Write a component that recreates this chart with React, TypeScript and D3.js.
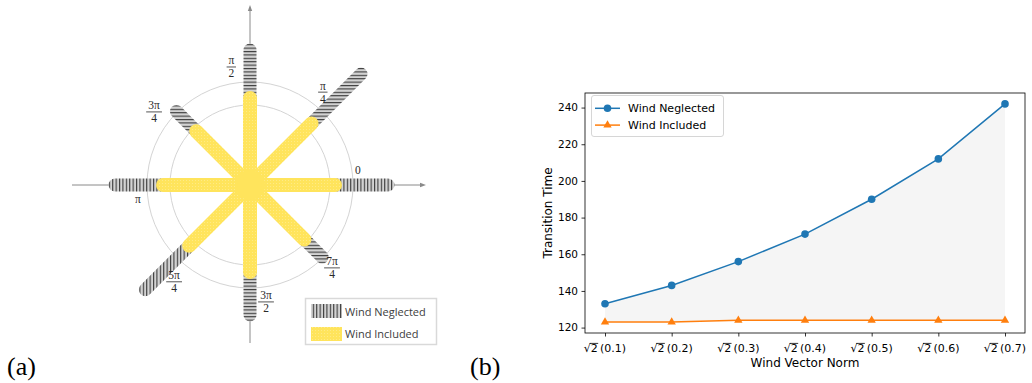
import React, { useEffect, useRef } from 'react';
import * as d3 from 'd3';

// (a) heading directions, in multiples of pi/4
const headingSteps = [0, 1, 2, 3, 4, 5, 6, 7];
const headingNumer = ['0', 'π', 'π', '3π', 'π', '5π', '3π', '7π'];
const headingDenom = ['', '4', '2', '4', '', '4', '2', '4'];
const neglectedReach = [138, 157, 135, 104, 135, 148, 130, 102];
const includedReach = [85, 87, 87, 76, 87, 86, 87, 77];
const ringValues = [80, 103];

// (b) transition time vs wind norm
const normLabels = ['0.1', '0.2', '0.3', '0.4', '0.5', '0.6', '0.7'];
const neglectedTime = [133, 143, 156, 171, 190, 212, 242];
const includedTime = [123, 123, 124, 124, 124, 124, 124];
const timeTicks = [120, 140, 160, 180, 200, 220, 240];

// layout only: where each heading label sits (degrees, radius)
const labelPolar = [
  [7.9, 109], [51.9, 118], [99, 119.5], [142.7, 120.6],
  [187, 113], [231.9, 123], [277.8, 118], [314.7, 116.6],
];
// which stripe direction each neglected bar uses
const stripeKind = ['v', 'h', 'h', 'h', 'v', 'v', 'h', 'h'];

const W = 1032;
const H = 383;

function App() {
  const ref = useRef<SVGSVGElement>(null);

  useEffect(() => {
    const svg = d3.select(ref.current);
    svg.selectAll('*').remove();

    const defs = svg.append('defs');
    // horizontal stripes
    const ph = defs.append('pattern').attr('id', 'hatchH').attr('patternUnits', 'userSpaceOnUse')
      .attr('width', 4).attr('height', 3.4);
    ph.append('rect').attr('width', 4).attr('height', 3.4).attr('fill', '#d3d3d3');
    ph.append('rect').attr('width', 4).attr('height', 1.1).attr('fill', '#3a3a3a');
    // vertical stripes
    const pv = defs.append('pattern').attr('id', 'hatchV').attr('patternUnits', 'userSpaceOnUse')
      .attr('width', 3.4).attr('height', 4);
    pv.append('rect').attr('width', 3.4).attr('height', 4).attr('fill', '#d3d3d3');
    pv.append('rect').attr('width', 1.1).attr('height', 4).attr('fill', '#3a3a3a');
    // dotted yellow
    const py = defs.append('pattern').attr('id', 'dotY').attr('patternUnits', 'userSpaceOnUse')
      .attr('width', 3).attr('height', 3);
    py.append('rect').attr('width', 3).attr('height', 3).attr('fill', '#ffe45c');
    py.append('rect').attr('width', 1).attr('height', 1).attr('fill', '#ffeb85');

    // ---------- (a) polar chart ----------
    const cx = 250;
    const cy = 185;
    const r = d3.scaleLinear().domain([0, 160]).range([0, 160]);
    const pt = (step: number, v: number) => {
      const a = (step * Math.PI) / 4;
      return [cx + r(v) * Math.cos(a), cy - r(v) * Math.sin(a)];
    };

    const a = svg.append('g');
    a.selectAll('circle.ring').data(ringValues).enter().append('circle')
      .attr('cx', cx).attr('cy', cy).attr('r', (d) => r(d))
      .attr('fill', 'none').attr('stroke', '#d4d4d4').attr('stroke-width', 1);

    // axes with arrows
    a.append('line').attr('x1', 72).attr('y1', cy).attr('x2', 422).attr('y2', cy)
      .attr('stroke', '#8a8a8a').attr('stroke-width', 1);
    a.append('path').attr('d', `M426,${cy} L420,${cy - 2.2} L420,${cy + 2.2} Z`).attr('fill', '#8a8a8a');
    a.append('line').attr('x1', cx).attr('y1', 9).attr('x2', cx).attr('y2', 343)
      .attr('stroke', '#8a8a8a').attr('stroke-width', 1);
    a.append('path').attr('d', `M${cx},5 L${cx - 2.2},11 L${cx + 2.2},11 Z`).attr('fill', '#8a8a8a');

    // wind neglected bars
    a.selectAll('line.neg').data(headingSteps).enter().append('line')
      .attr('x1', cx).attr('y1', cy)
      .attr('x2', (d) => pt(d, neglectedReach[d])[0])
      .attr('y2', (d) => pt(d, neglectedReach[d])[1])
      .attr('stroke', (d) => (stripeKind[d] === 'h' ? 'url(#hatchH)' : 'url(#hatchV)'))
      .attr('stroke-width', 13)
      .attr('stroke-linecap', 'round');

    // wind included bars
    a.selectAll('line.inc').data(headingSteps).enter().append('line')
      .attr('x1', cx).attr('y1', cy)
      .attr('x2', (d) => pt(d, includedReach[d])[0])
      .attr('y2', (d) => pt(d, includedReach[d])[1])
      .attr('stroke', 'url(#dotY)')
      .attr('stroke-width', 14)
      .attr('stroke-linecap', 'round');
    a.append('circle').attr('cx', cx).attr('cy', cy).attr('r', 15).attr('fill', '#ffe45c');

    // heading labels
    const lab = a.selectAll('g.lab').data(headingSteps).enter().append('g')
      .attr('transform', (d) => {
        const ang = (labelPolar[d][0] * Math.PI) / 180;
        return `translate(${cx + labelPolar[d][1] * Math.cos(ang)},${cy - labelPolar[d][1] * Math.sin(ang)})`;
      })
      .style('font-family', '"Liberation Serif", serif')
      .style('font-size', '11.5px')
      .attr('fill', '#2a2a2a');
    lab.append('text')
      .attr('text-anchor', 'middle')
      .attr('y', (d) => (headingDenom[d] ? -2.5 : 4))
      .text((d) => headingNumer[d]);
    lab.filter((d) => headingDenom[d] !== '').append('text')
      .attr('text-anchor', 'middle').attr('y', 10.5)
      .text((d) => headingDenom[d]);
    lab.filter((d) => headingDenom[d] !== '').append('line')
      .attr('x1', (d) => -(headingNumer[d].length * 3.2 + 1.5))
      .attr('x2', (d) => headingNumer[d].length * 3.2 + 1.5)
      .attr('y1', 0).attr('y2', 0)
      .attr('stroke', '#2a2a2a').attr('stroke-width', 0.8);

    // legend (a)
    const la = a.append('g');
    la.append('rect').attr('x', 305.5).attr('y', 298.5).attr('width', 131).attr('height', 46)
      .attr('fill', '#fff').attr('stroke', '#d9d9d9').attr('stroke-width', 1.5);
    la.append('rect').attr('x', 311).attr('y', 304).attr('width', 31).attr('height', 14).attr('fill', 'url(#hatchV)');
    la.append('rect').attr('x', 311).attr('y', 327).attr('width', 31).attr('height', 14).attr('fill', 'url(#dotY)');
    la.append('text').attr('x', 345).attr('y', 315.5).text('Wind Neglected')
      .style('font-family', '"Open Sans", sans-serif').style('font-size', '11px').attr('fill', '#404040');
    la.append('text').attr('x', 345).attr('y', 338).text('Wind Included')
      .style('font-family', '"Open Sans", sans-serif').style('font-size', '11px').attr('fill', '#404040');

    // ---------- (b) line chart ----------
    const left = 585, right = 1025, top = 93, bottom = 333;
    const x = d3.scaleLinear().domain([-0.3, 6.3]).range([left, right]);
    const y = d3.scaleLinear().domain([117.05, 247.95]).range([bottom, top]);
    const idx = d3.range(normLabels.length);
    const b = svg.append('g').style('font-family', '"DejaVu Sans", sans-serif');

    b.append('path')
      .datum(idx)
      .attr('d', d3.area<number>().x((i) => x(i)).y0((i) => y(includedTime[i])).y1((i) => y(neglectedTime[i])))
      .attr('fill', '#f5f5f5');

    const line = (vals: number[]) => d3.line<number>().x((i) => x(i)).y((i) => y(vals[i]))(idx);
    b.append('path').attr('d', line(neglectedTime)).attr('fill', 'none').attr('stroke', '#1f77b4').attr('stroke-width', 1.5);
    b.append('path').attr('d', line(includedTime)).attr('fill', 'none').attr('stroke', '#ff7f0e').attr('stroke-width', 1.5);
    b.selectAll('circle.n').data(idx).enter().append('circle')
      .attr('cx', (i) => x(i)).attr('cy', (i) => y(neglectedTime[i])).attr('r', 3.8).attr('fill', '#1f77b4');
    const tri = d3.symbol().type(d3.symbolTriangle).size(30);
    b.selectAll('path.t').data(idx).enter().append('path')
      .attr('d', tri as any)
      .attr('transform', (i) => `translate(${x(i)},${y(includedTime[i])})`)
      .attr('fill', '#ff7f0e');

    // spines
    b.append('rect').attr('x', left).attr('y', top).attr('width', right - left).attr('height', bottom - top)
      .attr('fill', 'none').attr('stroke', '#000').attr('stroke-width', 0.8);

    // y axis
    const ya = b.append('g').attr('transform', `translate(${left},0)`)
      .call(d3.axisLeft(y).tickValues(timeTicks).tickSize(3.5).tickPadding(3.5).tickFormat((d) => String(d)));
    ya.select('.domain').remove();
    ya.selectAll('text').style('font-size', '10.5px').style('font-family', '"DejaVu Sans", sans-serif').attr('fill', '#000');
    ya.selectAll('line').attr('stroke', '#000').attr('stroke-width', 0.8);

    // x axis ticks
    const xa = b.append('g').attr('transform', `translate(0,${bottom})`)
      .call(d3.axisBottom(x).tickValues(idx).tickSize(3.5).tickFormat(() => ''));
    xa.select('.domain').remove();
    xa.selectAll('line').attr('stroke', '#000').attr('stroke-width', 0.8);

    // x tick labels: sqrt(2)(v)
    const xl = b.selectAll('text.xl').data(idx).enter().append('text')
      .attr('class', 'xl')
      .attr('x', (i) => x(i)).attr('y', 352)
      .attr('text-anchor', 'middle')
      .style('font-size', '11px')
      .text((i) => `√2\u2009(${normLabels[i]})`);
    xl.each(function () {
      const t = this as SVGTextElement;
      try {
        const e2 = t.getExtentOfChar(1);
        const eR = t.getExtentOfChar(0);
        b.append('line')
          .attr('x1', eR.x + eR.width - 1.2).attr('x2', e2.x + e2.width + 0.3)
          .attr('y1', e2.y + 1.4).attr('y2', e2.y + 1.4)
          .attr('stroke', '#000').attr('stroke-width', 0.8);
      } catch (err) {
        // ignore
      }
    });

    b.append('text').attr('x', (left + right) / 2).attr('y', 367).attr('text-anchor', 'middle')
      .style('font-size', '12px').text('Wind Vector Norm');
    b.append('text').attr('transform', `translate(552,${(top + bottom) / 2}) rotate(-90)`)
      .attr('text-anchor', 'middle').style('font-size', '12px').text('Transition Time');

    // legend (b)
    const lb = b.append('g');
    lb.append('rect').attr('x', 591.5).attr('y', 95.5).attr('width', 132).attr('height', 41).attr('rx', 2.5)
      .attr('fill', '#fff').attr('fill-opacity', 0.8).attr('stroke', '#cccccc').attr('stroke-width', 0.8);
    const entries = [
      { name: 'Wind Neglected', color: '#1f77b4', kind: 'circle' },
      { name: 'Wind Included', color: '#ff7f0e', kind: 'tri' },
    ];
    entries.forEach((e, k) => {
      const yy = 108.3 + k * 16.8;
      lb.append('line').attr('x1', 595).attr('x2', 620).attr('y1', yy).attr('y2', yy)
        .attr('stroke', e.color).attr('stroke-width', 1.5);
      if (e.kind === 'circle') {
        lb.append('circle').attr('cx', 607.5).attr('cy', yy).attr('r', 3.8).attr('fill', e.color);
      } else {
        lb.append('path').attr('d', tri as any).attr('transform', `translate(607.5,${yy})`).attr('fill', e.color);
      }
      lb.append('text').attr('x', 628).attr('y', yy + 4).style('font-size', '11px').text(e.name);
    });

    // panel tags
    svg.append('text').attr('x', 7).attr('y', 375).text('(a)')
      .style('font-family', '"Liberation Serif", serif').style('font-size', '26px');
    svg.append('text').attr('x', 470).attr('y', 375).text('(b)')
      .style('font-family', '"Liberation Serif", serif').style('font-size', '26px');
  }, []);

  return (
    <svg
      ref={ref}
      width={W}
      height={H}
      style={{ position: 'absolute', left: 0, top: 0, background: '#fff' }}
    />
  );
}

export default App;
